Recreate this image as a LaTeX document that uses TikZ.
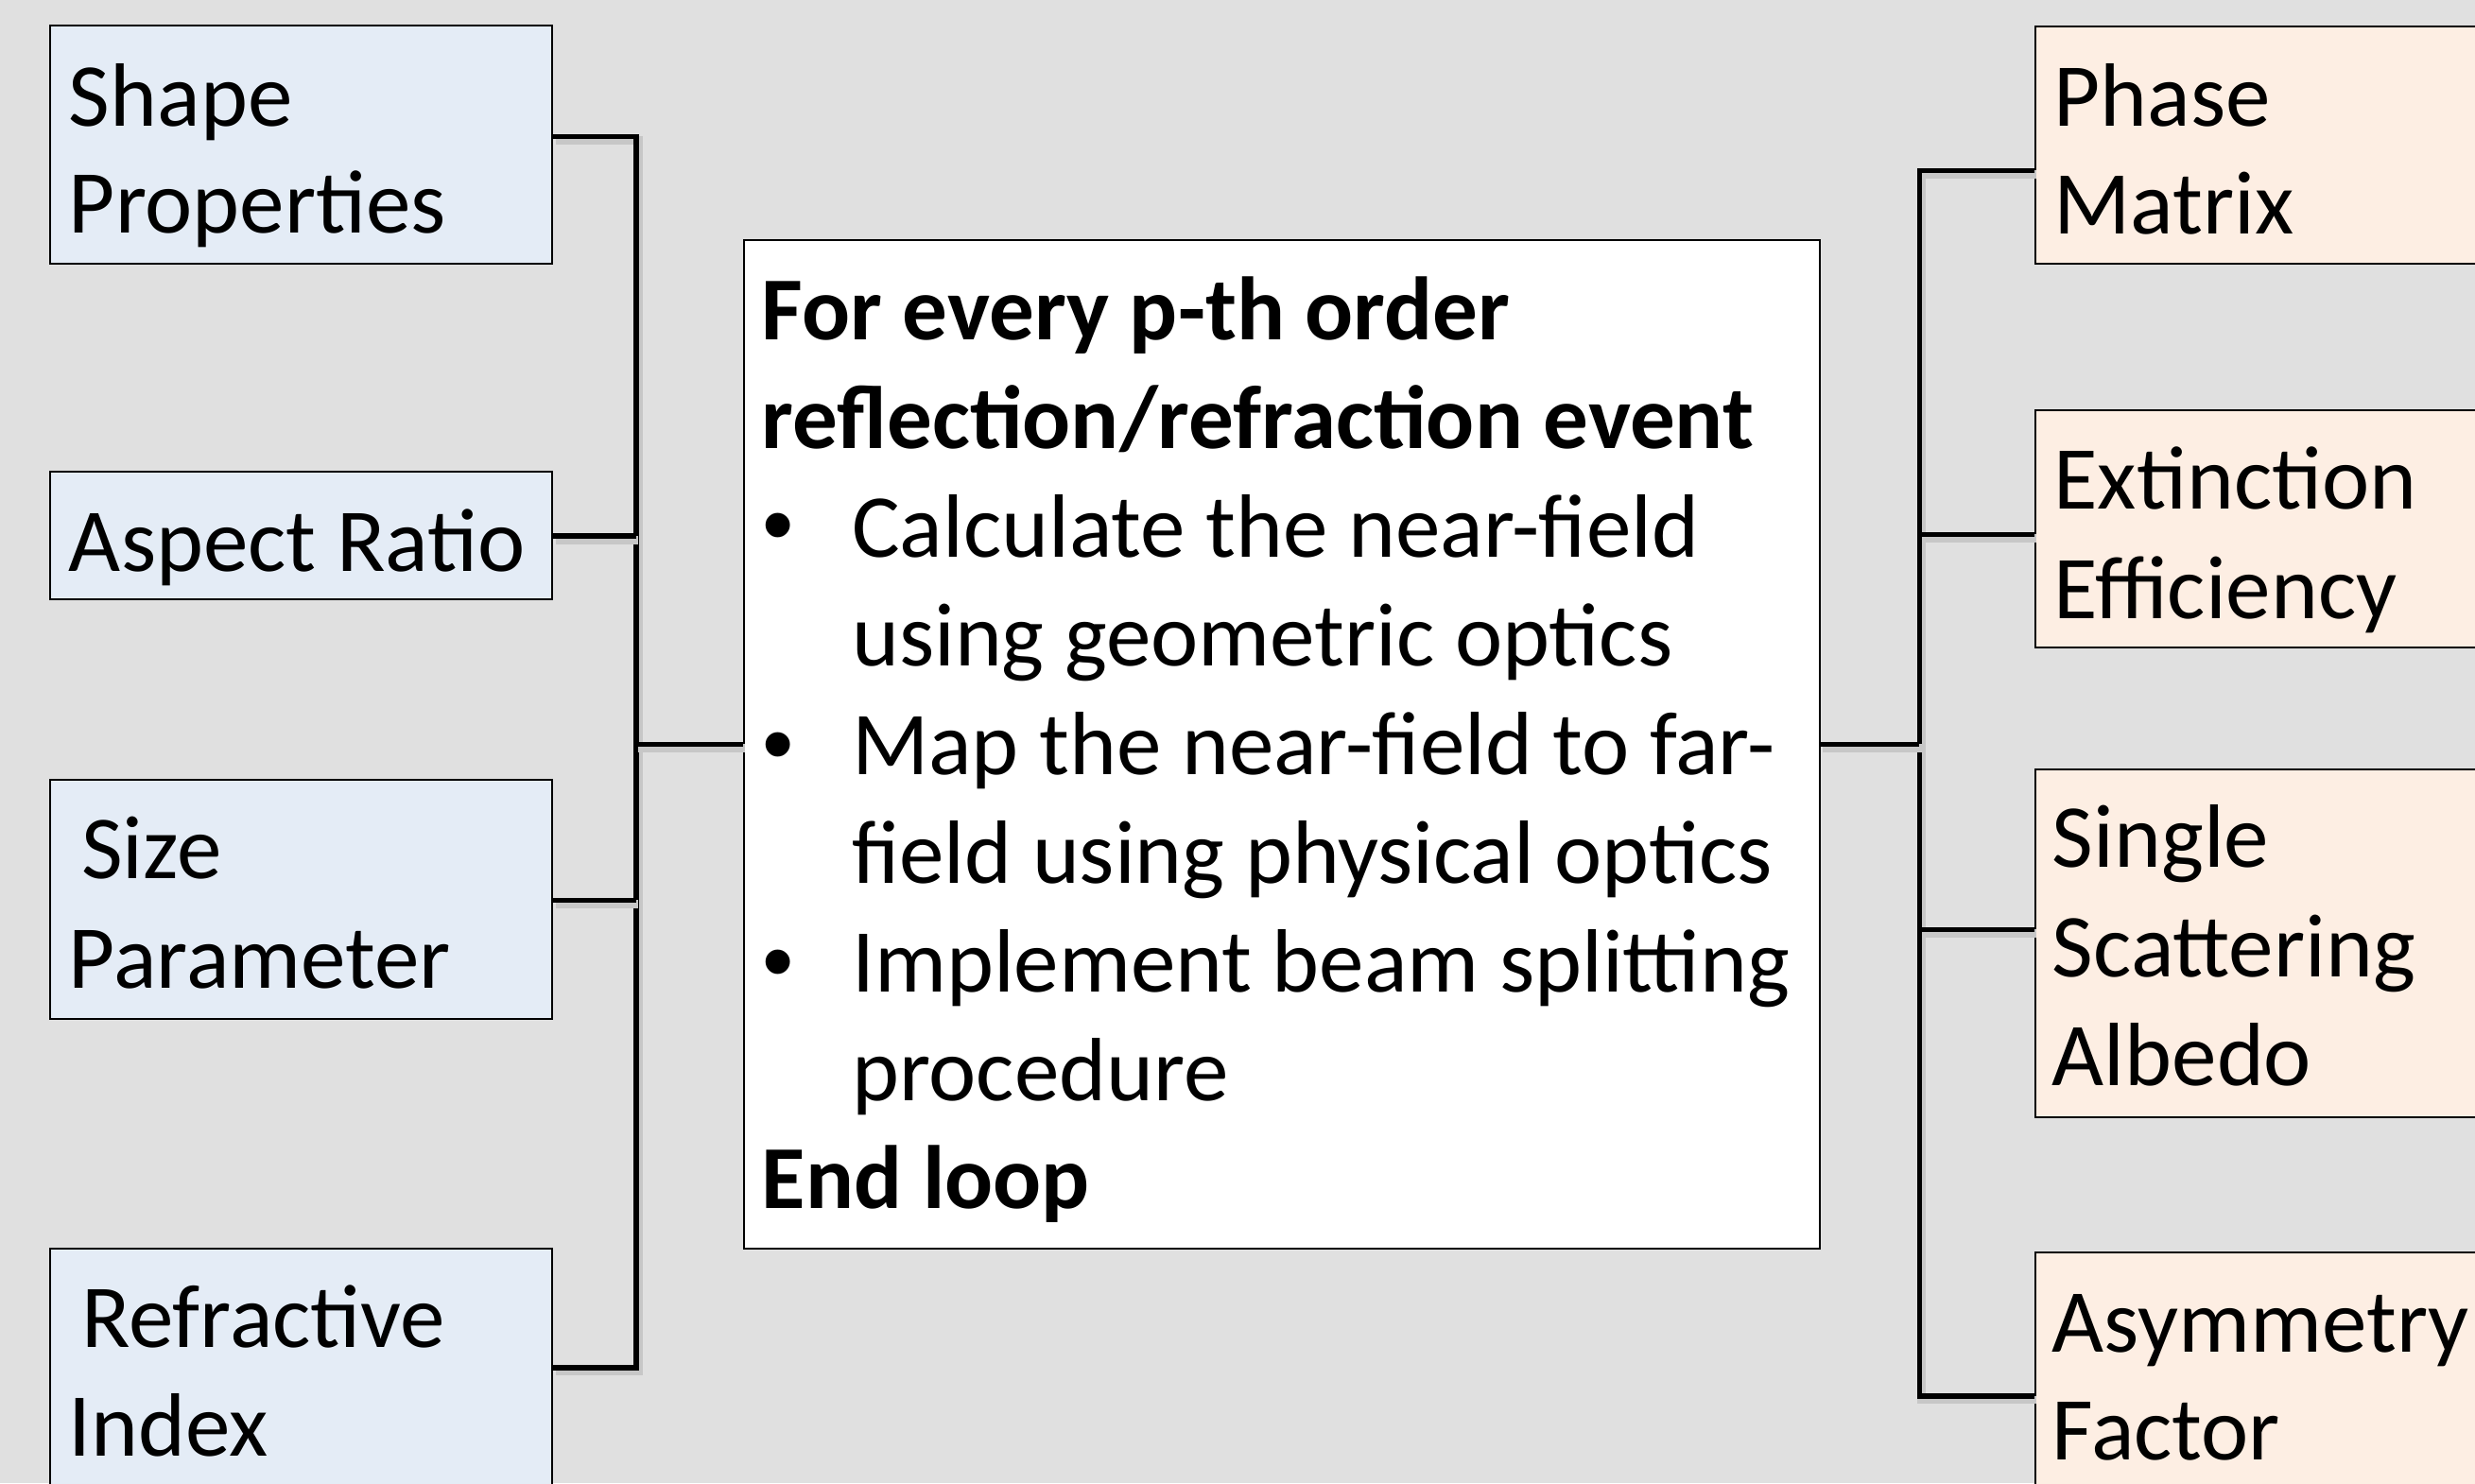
\documentclass[tikz,border=0pt]{standalone}
\usepackage{fontspec}
\setmainfont{Carlito}
\newfontfamily\bulfont{Liberation Sans}
\usetikzlibrary{fit}
\definecolor{bg}{RGB}{224,224,224}
\definecolor{lfill}{RGB}{228,236,246}
\definecolor{rfill}{RGB}{253,238,227}
\begin{document}
\begin{tikzpicture}[x=0.01cm,y=-0.01cm,
  lbox/.style={draw=black, line width=0.35pt, fill=lfill, inner sep=0pt},
  rbox/.style={draw=black, line width=0.35pt, fill=rfill, inner sep=0pt},
  cbox/.style={draw=black, line width=0.35pt, fill=white, inner sep=0pt},
  txt/.style={anchor=base west, inner sep=0pt, font=\fontsize{16.2pt}{19.4pt}\selectfont},
  btxt/.style={anchor=base west, inner sep=0pt, font=\fontsize{16.2pt}{19.4pt}\selectfont\bfseries},
  bul/.style={anchor=base west, inner sep=0pt, font=\fontsize{16.2pt}{19.4pt}\bulfont},
  conn/.style={line width=0.9pt, draw=black,
    preaction={draw=black!22, line width=1.5pt, transform canvas={shift={(0.4pt,-0.7pt)}}}}]
\fill[bg] (0,0) rectangle (1568,940);
\useasboundingbox (0,0) rectangle (1568,940);
\clip (0,0) rectangle (1568,940);
% boxes
\node[lbox, fit={(32,16) (350,167)}] (sp) {};
\node[lbox, fit={(32,299) (350,380)}] (ar) {};
\node[lbox, fit={(32,494.3) (350,645.7)}] (sz) {};
\node[lbox, fit={(32,791) (350,942)}] (ri) {};
\node[cbox, fit={(471.3,152) (1152.7,791)}] (cb) {};
\node[rbox, fit={(1289.3,16.5) (1600,167)}] (pm) {};
\node[rbox, fit={(1289.3,259.7) (1600,410)}] (ee) {};
\node[rbox, fit={(1289.3,487.4) (1600,707.7)}] (ss) {};
\node[rbox, fit={(1289.3,793.6) (1600,975)}] (af) {};
% bus coordinates
\coordinate (lbt) at (403,86.4);
\coordinate (la) at (403,339.6);
\coordinate (ls) at (403,570.6);
\coordinate (lbb) at (403,866.6);
\coordinate (lbm) at (403,471.5);
\coordinate (rbt) at (1216,108);
\coordinate (re) at (1216,338.6);
\coordinate (rs) at (1216,589);
\coordinate (rbb) at (1216,884.6);
\coordinate (rbm) at (1216,471.5);
% connectors
\draw[conn] (sp.east |- lbt) -- (lbt) -- (lbb) -- (ri.east |- lbb);
\draw[conn] (ar.east |- la) -- (la);
\draw[conn] (sz.east |- ls) -- (ls);
\draw[conn] (lbm) -- (cb.west);
\draw[conn] (pm.west |- rbt) -- (rbt) -- (rbb) -- (af.west |- rbb);
\draw[conn] (ee.west |- re) -- (re);
\draw[conn] (ss.west |- rs) -- (rs);
\draw[conn] (cb.east) -- (rbm);
% left texts
\node[txt] (t1) at (43,79.7) {Shape};
\node[txt] (t2) at (43,147.6) {Properties};
\node[txt] (t3) at (43,362.3) {Aspect Ratio};
\node[txt] (t4) at (51,557) {Size};
\node[txt] (t5) at (43,626) {Parameter};
\node[txt] (t6) at (51,854) {Refractive};
\node[txt] (t7) at (43,922.6) {Index};
% right texts
\node[txt] (r1) at (1300.5,79.7) {Phase};
\node[txt] (r2) at (1300.5,148.5) {Matrix};
\node[txt] (r3) at (1300.5,322.6) {Extinction};
\node[txt] (r4) at (1300.5,391.8) {Efficiency};
\node[txt] (r5) at (1299.5,549.5) {Single};
\node[txt] (r6) at (1299.5,619) {Scattering};
\node[txt] (r7) at (1299.5,687.6) {Albedo};
\node[txt] (r8) at (1299.5,857) {Asymmetry};
\node[txt] (r9) at (1299.5,924.8) {Factor};
% center texts
\node[btxt] (c1) at (482,215.6) {For every p-th order};
\node[btxt] (c2) at (482,284.4) {reflection/refraction event};
\node[bul] (b1) at (482.5,352) {•};
\node[txt] (c3) at (539,353.2) {Calculate the near-field};
\node[txt] (c4) at (539,422) {using geometric optics};
\node[bul] (b2) at (482.5,490.8) {•};
\node[txt] (c5) at (539,490.8) {Map the near-field to far-};
\node[txt] (c6) at (539,559.6) {field using physical optics};
\node[bul] (b3) at (482.5,628.4) {•};
\node[txt] (c7) at (539,628.4) {Implement beam splitting};
\node[txt] (c8) at (539,697.2) {procedure};
\node[btxt] (c9) at (482,766) {End loop};
\end{tikzpicture}
\end{document}
